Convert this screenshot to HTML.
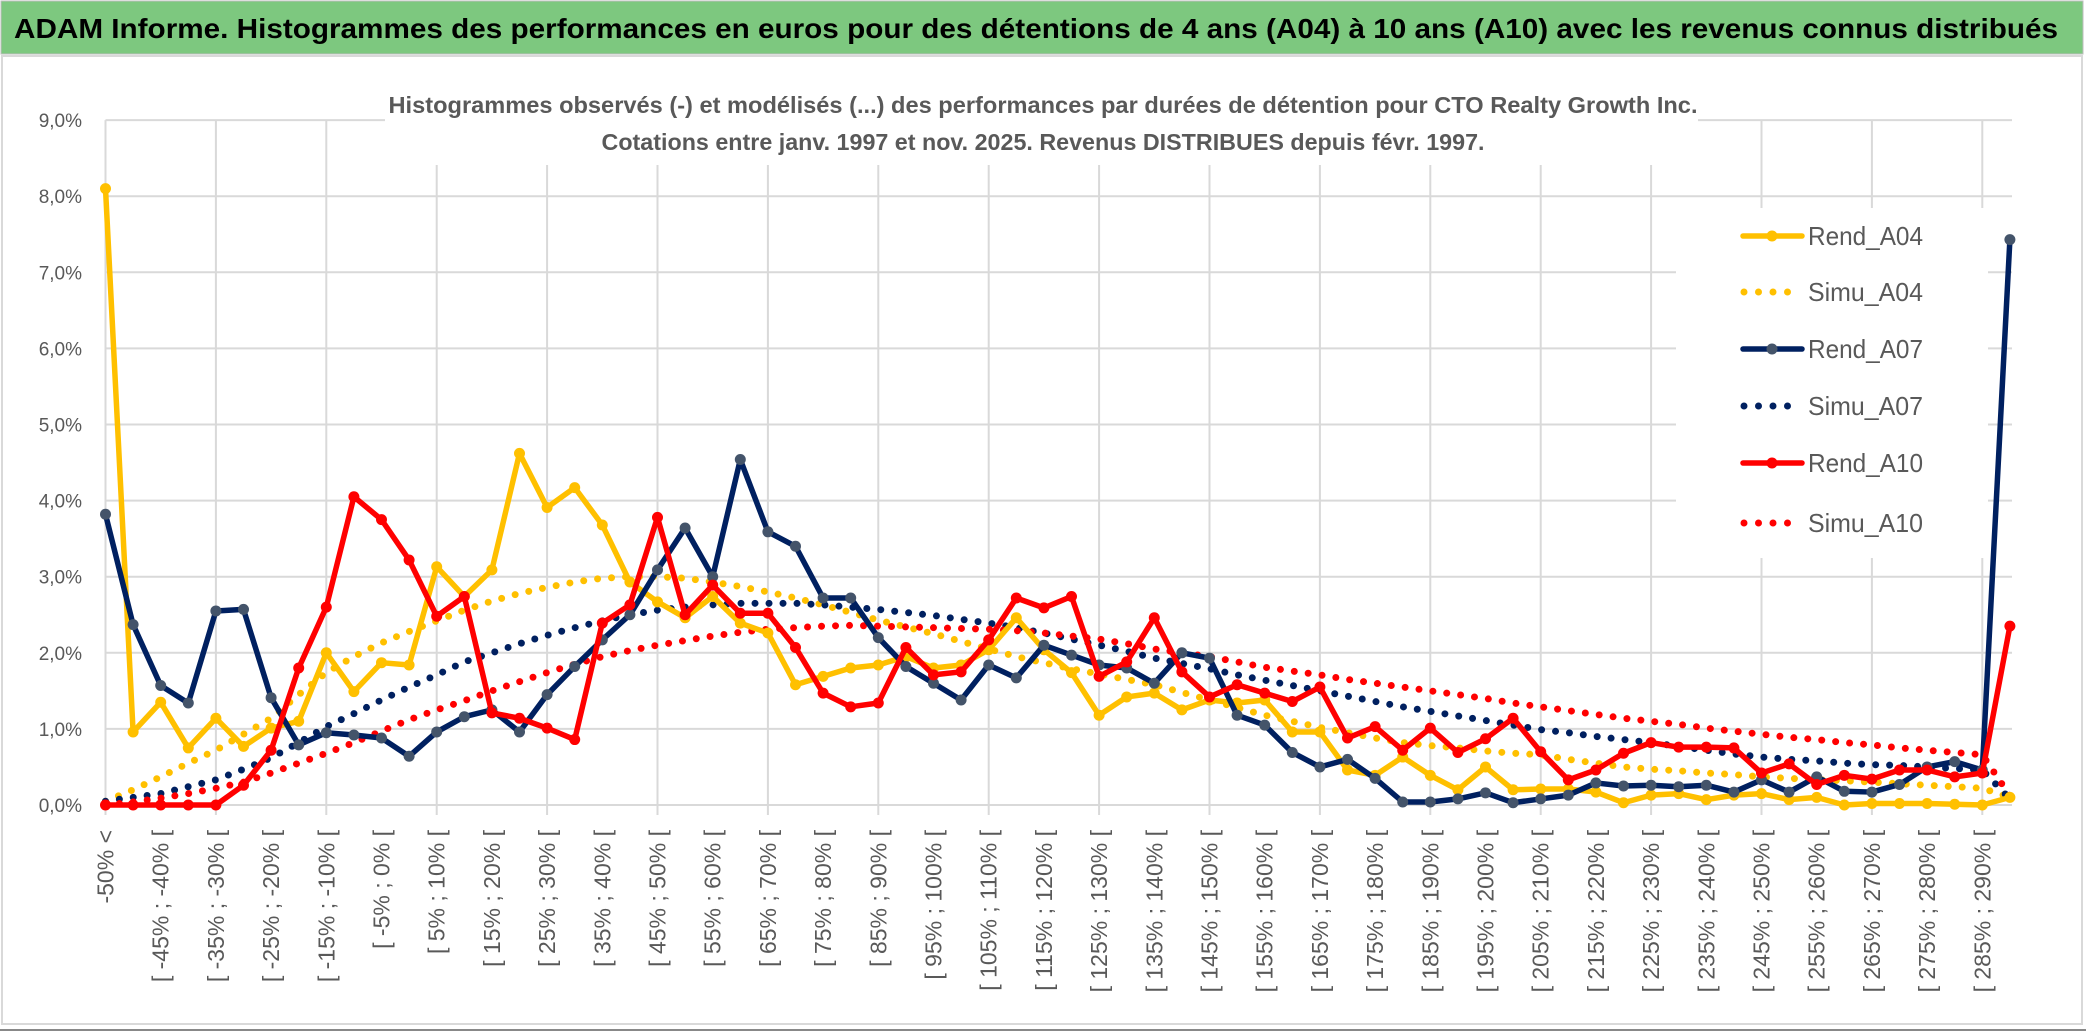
<!DOCTYPE html>
<html><head><meta charset="utf-8">
<style>
html,body{margin:0;padding:0;background:#fff;}
svg{display:block;font-family:"Liberation Sans",sans-serif;}
</style></head>
<body>
<svg id="chart" width="2086" height="1033" viewBox="0 0 2086 1033">
  <rect x="0" y="0" width="2086" height="1033" fill="#fff"/>
  <rect x="1" y="1" width="2082" height="53" fill="#7dc87f" stroke="#bdbdbd" stroke-width="1"/>
  <text x="14" y="38" font-size="28" font-weight="bold" fill="#000" textLength="2044" lengthAdjust="spacingAndGlyphs">ADAM Informe. Histogrammes des performances en euros pour des détentions de 4 ans (A04) à 10 ans (A10) avec les revenus connus distribués</text>
  <rect x="2" y="56" width="2080" height="968" fill="none" stroke="#d9d9d9" stroke-width="2"/>
  <line x1="0" y1="1030" x2="2086" y2="1030" stroke="#888" stroke-width="2"/>
  <g id="grid"></g>
  <rect x="385" y="70" width="1313" height="95" fill="#fff"/>
  <text x="1043" y="113" font-size="23" font-weight="bold" fill="#595959" text-anchor="middle" textLength="1309" lengthAdjust="spacingAndGlyphs">Histogrammes observés (-) et modélisés (...) des performances par durées de détention pour CTO Realty Growth Inc.</text>
  <text x="1043" y="150" font-size="23" font-weight="bold" fill="#595959" text-anchor="middle" textLength="883" lengthAdjust="spacingAndGlyphs">Cotations entre janv. 1997 et nov. 2025. Revenus DISTRIBUES depuis févr. 1997.</text>
  <g id="yaxis"></g>
  <g id="xaxis"></g>
  <g id="series"></g>
  <g id="legend"></g>
</svg>
<script>
const yTicks = [0,1,2,3,4,5,6,7,8,9];
const yTickLabels = ["0,0%","1,0%","2,0%","3,0%","4,0%","5,0%","6,0%","7,0%","8,0%","9,0%"];
const categories = ["-50% <"];
for (let k = 1; k < 70; k++) categories.push("[ " + (-55 + 5*k) + "% ; " + (-50 + 5*k) + "% [");

const rendA04 = [8.1,0.96,1.35,0.75,1.14,0.77,1.01,1.1,2.0,1.49,
1.87,1.84,3.13,2.74,3.09,4.62,3.91,4.17,3.68,2.93,
2.67,2.46,2.74,2.39,2.26,1.58,1.69,1.8,1.84,1.95,
1.8,1.84,2.04,2.46,2.04,1.74,1.18,1.42,1.47,1.25,
1.38,1.34,1.38,0.96,0.96,0.46,0.39,0.63,0.39,0.2,
0.5,0.2,0.21,0.21,0.17,0.03,0.13,0.15,0.07,0.13,
0.15,0.07,0.1,0.0,0.02,0.02,0.02,0.01,0.0,0.1];
const simuA04 = [0.05,0.2,0.37,0.55,0.72,0.93,1.14,1.45,1.74,1.95,
2.13,2.28,2.42,2.56,2.68,2.78,2.86,2.93,2.98,3.0,
3.0,2.98,2.93,2.87,2.8,2.72,2.63,2.53,2.43,2.34,
2.25,2.15,2.05,1.95,1.87,1.79,1.72,1.65,1.58,1.48,
1.38,1.28,1.18,1.1,1.02,0.95,0.88,0.82,0.78,0.75,
0.71,0.68,0.66,0.6,0.55,0.5,0.47,0.45,0.42,0.4,
0.37,0.35,0.33,0.32,0.3,0.28,0.26,0.24,0.22,0.1];
const rendA07 = [3.82,2.37,1.57,1.34,2.55,2.57,1.41,0.79,0.95,0.92,
0.88,0.64,0.96,1.16,1.25,0.96,1.45,1.82,2.17,2.5,
3.09,3.64,3.0,4.54,3.59,3.4,2.72,2.72,2.2,1.82,
1.6,1.38,1.84,1.67,2.1,1.97,1.84,1.8,1.6,2.0,
1.93,1.18,1.05,0.69,0.5,0.6,0.35,0.04,0.04,0.08,
0.16,0.03,0.08,0.13,0.29,0.25,0.26,0.24,0.26,0.17,
0.33,0.17,0.37,0.18,0.17,0.27,0.5,0.57,0.46,7.43];
const simuA07 = [0.05,0.1,0.15,0.24,0.33,0.47,0.62,0.82,1.03,1.2,
1.38,1.55,1.71,1.88,2.0,2.12,2.23,2.33,2.42,2.5,
2.56,2.6,2.63,2.65,2.65,2.65,2.63,2.6,2.57,2.53,
2.49,2.44,2.39,2.33,2.26,2.18,2.1,2.02,1.93,1.86,
1.79,1.71,1.64,1.57,1.5,1.43,1.36,1.29,1.23,1.17,
1.11,1.05,0.99,0.95,0.9,0.86,0.82,0.77,0.72,0.67,
0.63,0.6,0.58,0.55,0.53,0.52,0.5,0.48,0.46,0.08];
const rendA10 = [0,0,0,0,0,0.26,0.72,1.8,2.6,4.05,
3.75,3.22,2.48,2.74,1.21,1.14,1.01,0.86,2.39,2.63,
3.78,2.5,2.89,2.52,2.52,2.07,1.47,1.29,1.34,2.07,
1.71,1.75,2.17,2.72,2.59,2.74,1.69,1.88,2.46,1.75,
1.42,1.58,1.47,1.36,1.55,0.88,1.03,0.72,1.01,0.69,
0.87,1.14,0.7,0.33,0.46,0.68,0.82,0.76,0.76,0.75,
0.42,0.54,0.27,0.39,0.34,0.46,0.46,0.37,0.42,2.35];
const simuA10 = [0.0,0.04,0.09,0.15,0.22,0.3,0.42,0.55,0.68,0.82,
0.97,1.12,1.25,1.37,1.5,1.62,1.74,1.85,1.95,2.03,
2.1,2.16,2.22,2.27,2.31,2.33,2.35,2.36,2.35,2.34,
2.33,2.32,2.31,2.29,2.26,2.22,2.18,2.12,2.05,2.0,
1.95,1.88,1.81,1.76,1.71,1.65,1.6,1.55,1.5,1.45,
1.4,1.34,1.29,1.24,1.19,1.14,1.1,1.06,1.01,0.97,
0.93,0.89,0.86,0.82,0.79,0.75,0.72,0.69,0.66,0.12];
const seriesNames = ["Rend_A04","Simu_A04","Rend_A07","Simu_A07","Rend_A10","Simu_A10"];

const NS = "http://www.w3.org/2000/svg";
const X0 = 105.5, STEP = 27.6, Y0 = 805, YPX = 76.1;
function xPos(i){ return X0 + STEP * i; }
function yPos(v){ return Y0 - YPX * v; }
function mk(tag, attrs, parent){ const e = document.createElementNS(NS, tag); for (const k in attrs) e.setAttribute(k, attrs[k]); parent.appendChild(e); return e; }

const grid = document.getElementById('grid');
yTicks.forEach(function(t){
  const l = mk('line', {x1: X0, x2: 2012, y1: yPos(t), y2: yPos(t), stroke: '#d9d9d9', 'stroke-width': 2}, grid);
  
  
});
for (let i = 0; i < categories.length; i += 4) {
  const l = mk('line', {x1: xPos(i), x2: xPos(i), y1: yPos(9), y2: Y0 + 10, stroke: '#d9d9d9', 'stroke-width': 2}, grid);
  
  
}

const yaxis = document.getElementById('yaxis');
yTicks.forEach(function(t, k){
  const tx = mk('text', {x: 82, y: yPos(t) + 7, 'font-size': 19, fill: '#595959', 'text-anchor': 'end'}, yaxis);
  tx.textContent = yTickLabels[k];
  
  
});

const xaxis = document.getElementById('xaxis');
categories.forEach(function(c, i){
  if (i % 2 !== 0) return;
  const x = xPos(i) + 8;
  const tx = mk('text', {x: x, y: 830, 'font-size': 23, fill: '#595959', 'text-anchor': 'end', transform: 'rotate(-90 ' + x + ' 830)'}, xaxis);
  tx.textContent = c;
  
  
});

const series = document.getElementById('series');
function drawSimu(vals, color, name){
  const pts = vals.map(function(v, i){ return xPos(i) + ',' + yPos(v); }).join(' ');
  const p = mk('polyline', {points: pts, fill: 'none', stroke: color, 'stroke-width': 7, 'stroke-linecap': 'round', 'stroke-dasharray': '0 14'}, series);
  
  
}
function drawRend(vals, color, mcolor, name){
  const pts = vals.map(function(v, i){ return xPos(i) + ',' + yPos(v); }).join(' ');
  const p = mk('polyline', {points: pts, fill: 'none', stroke: color, 'stroke-width': 5.5, 'stroke-linejoin': 'round'}, series);
  
  
  vals.forEach(function(v, i){
    const c = mk('circle', {cx: xPos(i), cy: yPos(v), r: 5.5, fill: mcolor}, series);
    
    
  });
}
drawSimu(simuA04, '#ffc000', 'simu-a04-line');
drawSimu(simuA07, '#002060', 'simu-a07-line');
drawSimu(simuA10, '#ff0000', 'simu-a10-line');
drawRend(rendA04, '#ffc000', '#ffc000', 'rend-a04-line');
drawRend(rendA07, '#002060', '#44546a', 'rend-a07-line');
drawRend(rendA10, '#ff0000', '#ff0000', 'rend-a10-line');

const legend = document.getElementById('legend');
const lbg = mk('rect', {x: 1676, y: 208, width: 312, height: 350, fill: '#fff'}, legend);


const legColors = ['#ffc000','#ffc000','#002060','#002060','#ff0000','#ff0000'];
const legMarker = ['#ffc000','#ffc000','#44546a','#44546a','#ff0000','#ff0000'];
const legY = [236, 292, 349, 406, 463, 523];
seriesNames.forEach(function(n, k){
  const y = legY[k];
  const g = mk('g', {}, legend);
  
  
  if (k % 2 === 0) {
    mk('line', {x1: 1743, x2: 1802, y1: y, y2: y, stroke: legColors[k], 'stroke-width': 5.5, 'stroke-linecap': 'round'}, g);
    mk('circle', {cx: 1772, cy: y, r: 5.5, fill: legMarker[k]}, g);
  } else {
    mk('line', {x1: 1744, x2: 1790, y1: y, y2: y, stroke: legColors[k], 'stroke-width': 7, 'stroke-linecap': 'round', 'stroke-dasharray': '0 14.5'}, g);
  }
  const t = mk('text', {x: 1808, y: y + 9, 'font-size': 26, fill: '#595959', textLength: 115, lengthAdjust: 'spacingAndGlyphs'}, g);
  t.textContent = n;
});
</script>
</body></html>
